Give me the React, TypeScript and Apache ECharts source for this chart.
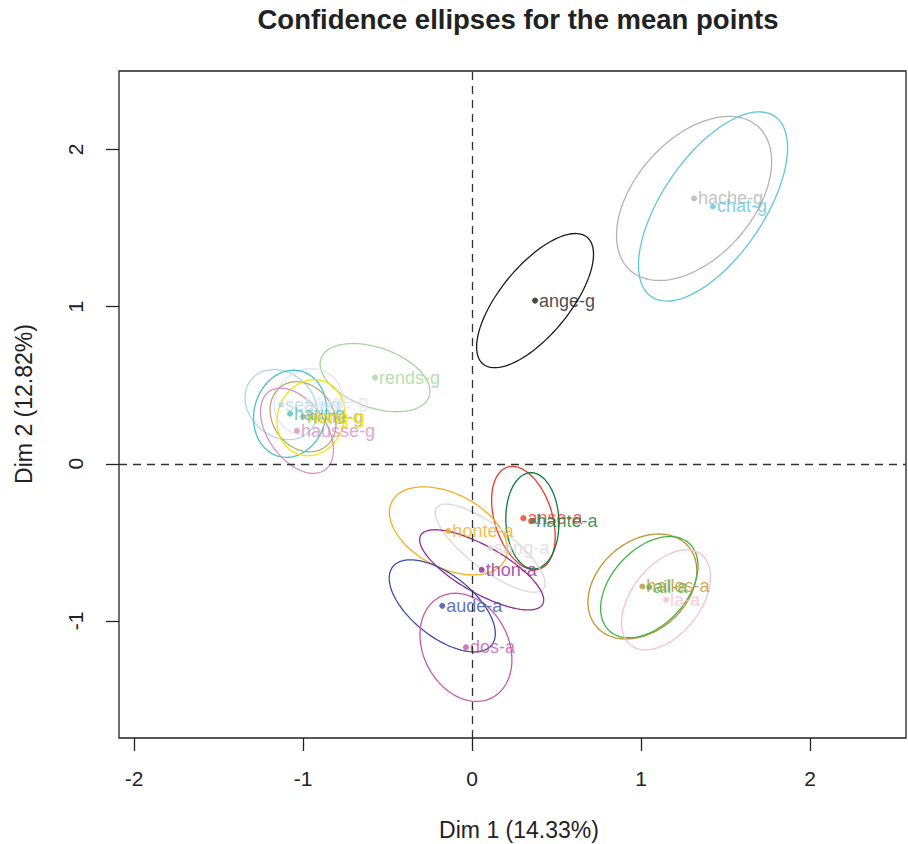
import React, { useEffect, useRef } from "react";
import * as echarts from "echarts";

const pointNames = [
  "hache-g", "chat-g", "ange-g", "rends-g", "seau-g", "auge-g", "haut-g", "hotte-g", "long-g", "hausse-g",
  "anse-a", "hante-a", "honte-a", "sang-a", "thon-a", "aude-a", "dos-a", "halles-a", "ail-a", "la-a",
];
const dim1 = [1.314, 1.426, 0.373, -0.574, -1.13, -0.97, -1.077, -1.0, -0.953, -1.036,
  0.304, 0.357, -0.14, 0.107, 0.057, -0.176, -0.036, 1.008, 1.049, 1.148];
const dim2 = [1.688, 1.637, 1.038, 0.548, 0.376, 0.395, 0.318, 0.299, 0.293, 0.21,
  -0.346, -0.363, -0.427, -0.537, -0.675, -0.904, -1.168, -0.781, -0.785, -0.866];
const pointColors = [
  "#b3b3b3", "#5fc6dc", "#1a1a1a", "#a3d699", "#add8e6", "#e2e2f6", "#48c1c6", "#b8a874", "#f2e600", "#d690c2",
  "#e8392a", "#0a7a3c", "#f5ad1b", "#d9d9d9", "#912b91", "#3a4fa6", "#c45aa8", "#bf9330", "#3fb549", "#f7c1cc",
];
// ellipse half extents along Dim 1 and Dim 2, and tilt (correlation)
const ellipseHalfWidth = [0.459, 0.441, 0.346, 0.325, 0.213, 0.201, 0.216, 0.195, 0.201, 0.216,
  0.188, 0.157, 0.349, 0.325, 0.367, 0.314, 0.272, 0.322, 0.288, 0.263];
const ellipseHalfHeight = [0.522, 0.602, 0.427, 0.217, 0.223, 0.21, 0.277, 0.223, 0.242, 0.271,
  0.329, 0.306, 0.28, 0.28, 0.255, 0.293, 0.344, 0.334, 0.322, 0.318];
const ellipseTilt = [0.45, 0.62, 0.69, -0.4, -0.2, 0.1, 0.1, -0.2, 0.1, -0.45,
  -0.35, -0.05, -0.42, -0.8, -0.75, -0.6, -0.23, 0.3, 0.42, 0.46];
const xTicks = [-2, -1, 0, 1, 2];
const yTicks = [-1, 0, 1, 2];

const FONT = '"Liberation Sans", Arial, Helvetica, sans-serif';
const INK = "#222222";

export default function App() {
  const ref = useRef<HTMLDivElement>(null);
  useEffect(() => {
    if (!ref.current) return;
    const chart = echarts.init(ref.current, null, { renderer: "svg" });
    const ellipseData = dim1.map((x, i) => [x, dim2[i], ellipseHalfWidth[i], ellipseHalfHeight[i], ellipseTilt[i]]);
    const option: any = {
      animation: false,
      backgroundColor: "#ffffff",
      grid: { left: 119, top: 71, right: 2, bottom: 106, show: true, borderColor: INK, borderWidth: 1.3, backgroundColor: "transparent" },
      xAxis: {
        type: "value", min: -2.089, max: 2.568,
        splitLine: { show: false },
        axisLine: { show: false, onZero: false },
        axisTick: { show: true, length: 13, customValues: xTicks, lineStyle: { color: INK, width: 1.3 } },
        axisLabel: { customValues: xTicks, fontSize: 21, color: INK, margin: 30, fontFamily: FONT },
      },
      yAxis: {
        type: "value", min: -1.745, max: 2.499,
        splitLine: { show: false },
        axisLine: { show: false, onZero: false },
        axisTick: { show: true, length: 13, customValues: yTicks, lineStyle: { color: INK, width: 1.3 } },
        axisLabel: { customValues: yTicks, fontSize: 21, color: INK, margin: 33, rotate: 90, fontFamily: FONT },
      },
      graphic: [
        { type: "text", x: 518, y: 19, style: { text: "Confidence ellipses for the mean points", fontSize: 27.5, fontWeight: "bold", fontFamily: FONT, fill: INK, align: "center", verticalAlign: "middle" } },
        { type: "text", x: 519, y: 830, style: { text: "Dim 1 (14.33%)", fontSize: 23, fontFamily: FONT, fill: INK, align: "center", verticalAlign: "middle" } },
        { type: "text", x: 24, y: 404, rotation: Math.PI / 2, style: { text: "Dim 2 (12.82%)", fontSize: 23, fontFamily: FONT, fill: INK, align: "center", verticalAlign: "middle" } },
      ],
      series: [
        {
          type: "custom",
          data: ellipseData,
          encode: { x: 0, y: 1 },
          silent: true,
          renderItem: (params: any, api: any) => {
            const i = params.dataIndex;
            const cx = api.value(0), cy = api.value(1), w = api.value(2), h = api.value(3), r = api.value(4);
            const s = Math.sqrt(1 - r * r);
            const pts: number[][] = [];
            const n = 140;
            for (let k = 0; k <= n; k++) {
              const t = (k / n) * Math.PI * 2;
              pts.push(api.coord([cx + w * Math.cos(t), cy + h * (r * Math.cos(t) + s * Math.sin(t))]));
            }
            return { type: "polyline", shape: { points: pts }, style: { stroke: pointColors[i], fill: "none", lineWidth: 1.3 } };
          },
        },
        {
          type: "scatter",
          symbolSize: 6,
          data: pointNames.map((n, i) => ({
            name: n,
            value: [dim1[i], dim2[i]],
            itemStyle: { color: pointColors[i] },
            label: { color: pointColors[i] },
          })),
          label: { show: true, position: "right", distance: 1, formatter: "{b}", fontSize: 18, fontFamily: FONT },
          markLine: {
            silent: true,
            symbol: ["none", "none"],
            label: { show: false },
            lineStyle: { type: [8, 6], color: "#333333", width: 1.3 },
            data: [{ xAxis: 0 }, { yAxis: 0 }],
          },
        },
      ],
    };
    chart.setOption(option);
    return () => chart.dispose();
  }, []);
  return <div ref={ref} style={{ position: "fixed", left: 0, top: 0, width: 908, height: 844, background: "#fff" }} />;
}
